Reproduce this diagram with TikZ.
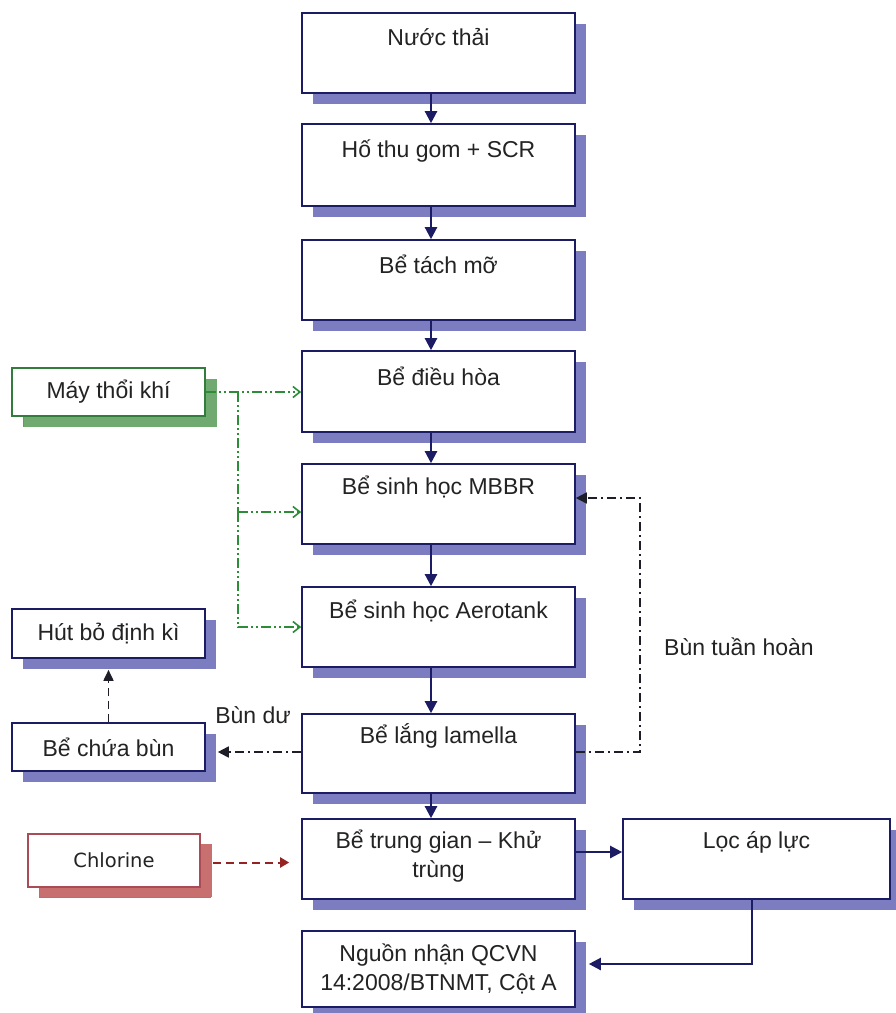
\documentclass[tikz,border=0pt]{standalone}
\usepackage{fontspec}
\setmainfont{Liberation Sans}
\newfontfamily\chlfont{DejaVu Sans}
\usetikzlibrary{shadows,arrows.meta,calc}
\definecolor{navy}{RGB}{28,28,100}
\definecolor{shblue}{RGB}{124,124,192}
\definecolor{grb}{RGB}{50,125,60}
\definecolor{grs}{RGB}{112,170,112}
\definecolor{grl}{RGB}{45,140,55}
\definecolor{rdb}{RGB}{170,75,85}
\definecolor{rds}{RGB}{200,112,112}
\definecolor{rdl}{RGB}{150,35,35}
\definecolor{txt}{RGB}{35,35,35}
\definecolor{dk}{RGB}{30,30,40}
\begin{document}
\begin{tikzpicture}[x=1pt,y=-1pt,
  box/.style={draw=navy, line width=1.6pt, fill=white, inner sep=0pt,
    drop shadow={shadow xshift=11pt, shadow yshift=-11pt, fill=shblue, opacity=1}},
  mainbox/.style={box, minimum width=273pt},
  sidebox/.style={box, minimum width=193pt, minimum height=48pt, text=txt,
    font=\fontsize{23}{27}\selectfont},
  greenbox/.style={sidebox, draw=grb,
    drop shadow={shadow xshift=12pt, shadow yshift=-11pt, fill=grs, opacity=1}},
  redbox/.style={box, draw=rdb, minimum width=172pt, minimum height=53pt, text=txt,
    font=\chlfont\fontsize{19.5}{23}\selectfont,
    drop shadow={shadow xshift=12pt, shadow yshift=-10pt, fill=rds, opacity=1}},
  lbl/.style={text=txt, font=\fontsize{23}{28.5}\selectfont, align=center, inner sep=0pt},
  flow/.style={draw=navy, line width=2.3pt, -{Triangle[length=12pt,width=12pt]}},
  air/.style={draw=grl, line width=1.4pt,
    dash pattern=on 10pt off 3pt on 2pt off 3pt on 2pt off 3pt},
  airarrow/.style={air, -{Straight Barb[length=7pt,width=11pt,line width=1.6pt]}},
  sludge/.style={draw=dk, line width=1.7pt, dash pattern=on 9pt off 4pt on 2pt off 4pt,
    -{Triangle[length=11pt,width=11pt]}},
  drain/.style={draw=dk, line width=1.7pt, dash pattern=on 8pt off 5pt,
    -{Triangle[length=11pt,width=10pt]}},
  chl/.style={draw=rdl, line width=2pt, dash pattern=on 8pt off 5pt,
    -{Triangle[length=9pt,width=10pt]}}
]
\useasboundingbox (0,0) rectangle (896,1013);

% main column
\node[mainbox, minimum height=80pt] (b1) at (438.5,53) {};
\node[mainbox, minimum height=82pt] (b2) at (438.5,165) {};
\node[mainbox, minimum height=80pt] (b3) at (438.5,280) {};
\node[mainbox, minimum height=81pt] (b4) at (438.5,391.5) {};
\node[mainbox, minimum height=80pt] (b5) at (438.5,504) {};
\node[mainbox, minimum height=80pt] (b6) at (438.5,627) {};
\node[mainbox, minimum height=79pt] (b7) at (438.5,753.5) {};
\node[mainbox, minimum height=80pt] (b8) at (438.5,859) {};
\node[mainbox, minimum height=76pt] (b9) at (438.5,969) {};
\node[box, minimum width=267pt, minimum height=80pt] (loc) at (756.5,859) {};

\node[lbl] (t1) at ($(b1.north)+(0,25)$) {Nước thải};
\node[lbl] (t2) at ($(b2.north)+(0,28)$) {Hố thu gom + SCR};
\node[lbl] (t3) at ($(b3.north)+(0,25)$) {Bể tách mỡ};
\node[lbl] (t4) at ($(b4.north)+(0,26)$) {Bể điều hòa};
\node[lbl] (t5) at ($(b5.north)+(0,24)$) {Bể sinh học MBBR};
\node[lbl] (t6) at ($(b6.north)+(0,25)$) {Bể sinh học Aerotank};
\node[lbl] (t7) at ($(b7.north)+(0,23)$) {Bể lắng lamella};
\node[lbl] (t8) at ($(b8.north)+(0,38)$) {Bể trung gian – Khử\\trùng};
\node[lbl] (t9) at (b9.center) {Nguồn nhận QCVN\\14:2008/BTNMT, Cột A};
\node[lbl] (tl) at ($(loc.north)+(0,24)$) {Lọc áp lực};

% side boxes
\node[greenbox] (mt) at (108.5,392) {Máy thổi khí};
\node[sidebox, minimum height=49pt] (hb) at (108.5,633.5) {Hút bỏ định kì};
\node[sidebox] (bcb) at (108.5,747) {Bể chứa bùn};
\node[redbox] (cl) at (114,860.5) {Chlorine};

% labels
\node[lbl] (lbd) at (253,715) {Bùn dư};
\node[lbl] (lbt) at (739,647) {Bùn tuần hoàn};

% main flow
\coordinate (ax) at (431,0);
\draw[flow] (b1.south -| ax) -- (b2.north -| ax);
\draw[flow] (b2.south -| ax) -- (b3.north -| ax);
\draw[flow] (b3.south -| ax) -- (b4.north -| ax);
\draw[flow] (b4.south -| ax) -- (b5.north -| ax);
\draw[flow] (b5.south -| ax) -- (b6.north -| ax);
\draw[flow] (b6.south -| ax) -- (b7.north -| ax);
\draw[flow] (b7.south -| ax) -- (b8.north -| ax);
\coordinate (yk) at (0,852);
\draw[flow] (b8.east |- yk) -- (loc.west |- yk);
\coordinate (lx) at (752,964);
\draw[flow] (loc.south -| lx) |- ($(b9.east |- lx)+(13,0)$);

% air
\coordinate (gx) at (238,392);
\coordinate (gy) at (0,512);
\draw[airarrow] (mt.east) -- (b4.west |- mt.east);
\draw[air] (gx) -- (gx |- gy);
\draw[airarrow] (gx |- gy) -- (b5.west |- gy);
\draw[airarrow] (gx |- gy) |- (b6.west);

% recirculation
\coordinate (rc) at (640,498);
\coordinate (yb) at (0,752);
\draw[sludge] (b7.east |- yb) -| (rc) -- (rc -| b5.east);
\draw[sludge] (b7.west |- yb) -- ($(bcb.east |- yb)+(12,0)$);
\draw[drain] (bcb.north) -- ($(hb.south)+(0,11)$);

% chlorine
\draw[chl] ($(cl.east)+(12,2)$) -- ($(b8.west |- cl.east)+(-12,2)$);
\end{tikzpicture}
\end{document}
